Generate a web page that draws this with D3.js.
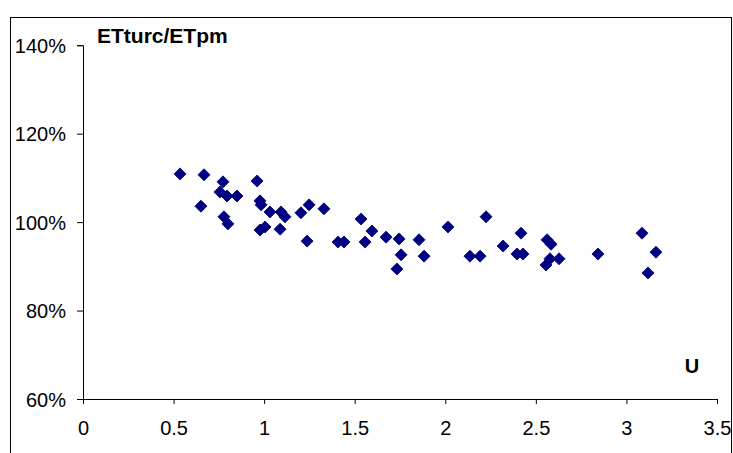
<!DOCTYPE html>
<html>
<head>
<meta charset="utf-8">
<script src="https://cdn.jsdelivr.net/npm/d3@7"></script>
<style>
  html, body { margin: 0; padding: 0; background: #fff; }
  svg { display: block; font-family: "Liberation Sans", Arial, sans-serif; }
</style>
</head>
<body>
<svg id="chart" width="733" height="453"></svg>
<script>
// U values (x) and ETturc/ETpm ratios in percent (y)
const uValues = [
  0.536, 0.668, 0.773, 0.756, 0.795, 0.850, 0.961, 0.651, 0.778, 0.800,
  0.977, 0.983, 1.032, 1.093, 1.115, 0.977, 1.005, 1.088, 1.203, 1.248,
  1.330, 1.237, 1.408, 1.441, 1.535, 1.595, 1.557, 1.673, 1.745, 1.756,
  1.733, 1.855, 1.883, 2.015, 2.225, 2.136, 2.192, 2.319, 2.418, 2.396,
  2.429, 2.562, 2.584, 2.578, 2.556, 2.628, 2.843, 3.086, 3.163, 3.119
];
const ratioValues = [
  110.9, 110.7, 109.1, 106.8, 105.9, 105.9, 109.3, 103.6, 101.2, 99.6,
  104.8, 103.9, 102.3, 102.3, 101.2, 98.2, 98.9, 98.4, 102.1, 103.9,
  103.0, 95.7, 95.5, 95.5, 100.7, 98.0, 95.5, 96.6, 96.2, 92.6,
  89.4, 96.0, 92.3, 98.9, 101.2, 92.3, 92.3, 94.6, 97.5, 92.8,
  92.8, 96.0, 95.0, 91.7, 90.3, 91.7, 92.8, 97.5, 93.2, 88.5
];
const xTicks = [0, 0.5, 1, 1.5, 2, 2.5, 3, 3.5];
const yTicks = [60, 80, 100, 120, 140];
const yTitle = "ETturc/ETpm";
const xTitle = "U";

const svg = d3.select("#chart");

// outer chart border
svg.append("rect")
  .attr("x", 10.5).attr("y", 17.5)
  .attr("width", 721).attr("height", 460)
  .attr("fill", "none").attr("stroke", "#000").attr("stroke-width", 1);

const x = d3.scaleLinear().domain([0, 3.5]).range([83, 717]);
const y = d3.scaleLinear().domain([60, 140]).range([399, 45.2]);

const xAxis = svg.append("g")
  .attr("transform", "translate(0," + y(60) + ")")
  .call(d3.axisBottom(x).tickValues(xTicks).tickSize(5).tickPadding(17)
    .tickFormat(d3.format("")));
const yAxis = svg.append("g")
  .attr("transform", "translate(" + x(0) + ",0)")
  .call(d3.axisLeft(y).tickValues(yTicks).tickSize(6).tickPadding(11)
    .tickFormat(d => d + "%"));

[xAxis, yAxis].forEach(g => {
  g.select(".domain").attr("stroke", "#000");
  g.selectAll(".tick line").attr("stroke", "#000");
  g.selectAll(".tick text")
    .attr("fill", "#000")
    .style("font-family", "'Liberation Sans', Arial, sans-serif")
    .style("font-size", "20px");
});
yAxis.selectAll(".tick text").attr("dy", "0.35em");
xAxis.selectAll(".tick text").attr("dy", "0.71em");

// axis titles
svg.append("text")
  .attr("x", 97).attr("y", 43)
  .attr("font-size", "21px").attr("font-weight", "bold")
  .text(yTitle);
svg.append("text")
  .attr("x", 692).attr("y", 373)
  .attr("text-anchor", "middle")
  .attr("font-size", "20px").attr("font-weight", "bold")
  .text(xTitle);

// diamond markers
const points = uValues.map((u, i) => [u, ratioValues[i]]);
const diamond = d3.symbol().type(d3.symbolSquare).size(72);
svg.append("g")
  .selectAll("path")
  .data(points)
  .join("path")
  .attr("d", diamond)
  .attr("transform", d => "translate(" + x(d[0]) + "," + y(d[1]) + ") rotate(45)")
  .attr("fill", "#000080")
  .attr("stroke", "#000080")
  .attr("stroke-width", 0.8);
</script>
</body>
</html>
